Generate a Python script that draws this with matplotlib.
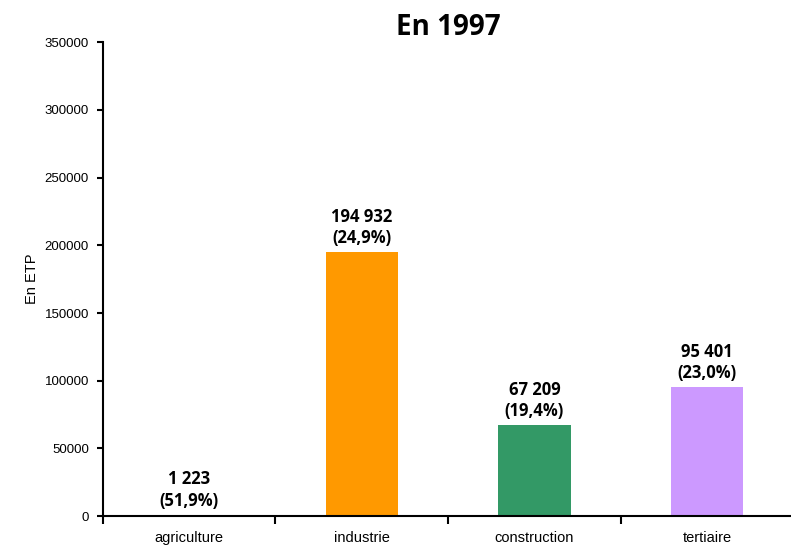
import matplotlib
matplotlib.use('Agg')
import matplotlib.pyplot as plt

# données
secteurs = ['agriculture', 'industrie', 'construction', 'tertiaire']
effectifs = [1223, 194932, 67209, 95401]
etiquettes = ['1 223\n(51,9%)', '194 932\n(24,9%)', '67 209\n(19,4%)', '95 401\n(23,0%)']
couleurs = ['#339966', '#FF9900', '#339966', '#CC99FF']
yticks = [0, 50000, 100000, 150000, 200000, 250000, 300000, 350000]

fig = plt.figure(figsize=(7.91, 5.48), dpi=100)
ax = fig.add_axes([0.130, 0.058, 0.873, 0.865])

x = list(range(len(secteurs)))
ax.bar(x, effectifs, width=0.42, color=couleurs)

for xi, v, lab in zip(x, effectifs, etiquettes):
    ax.text(xi, v + 3500, lab, ha='center', va='bottom', fontsize=12,
            fontweight='bold', family='Open Sans', linespacing=1.25)

ax.set_xlim(-0.5, 3.5)
ax.set_ylim(0, 350000)
ax.set_yticks(yticks)
ax.set_yticklabels([str(t) for t in yticks], family='Liberation Sans', fontsize=9.5)

# ticks de l'axe x entre les catégories, libellés au centre
ax.set_xticks([-0.5, 0.5, 1.5, 2.5, 3.5])
ax.set_xticklabels([])
ax.tick_params(axis='x', direction='out', length=6, width=1.5)
ax.tick_params(axis='y', direction='out', length=4, width=1.5, pad=6)
for xi, s in zip(x, secteurs):
    ax.text(xi, -0.047, s, transform=ax.get_xaxis_transform(), ha='center',
            va='center', fontsize=10.5, family='Liberation Sans')

ax.spines['top'].set_visible(False)
ax.spines['right'].set_visible(False)
ax.spines['left'].set_linewidth(1.5)
ax.spines['bottom'].set_linewidth(1.5)

ax.set_ylabel('En ETP', family='Liberation Sans', fontsize=10.5, labelpad=4)
ax.set_title('En 1997', fontsize=20, fontweight='bold', family='Open Sans', pad=-2)

fig.savefig('out.png', dpi=100)
